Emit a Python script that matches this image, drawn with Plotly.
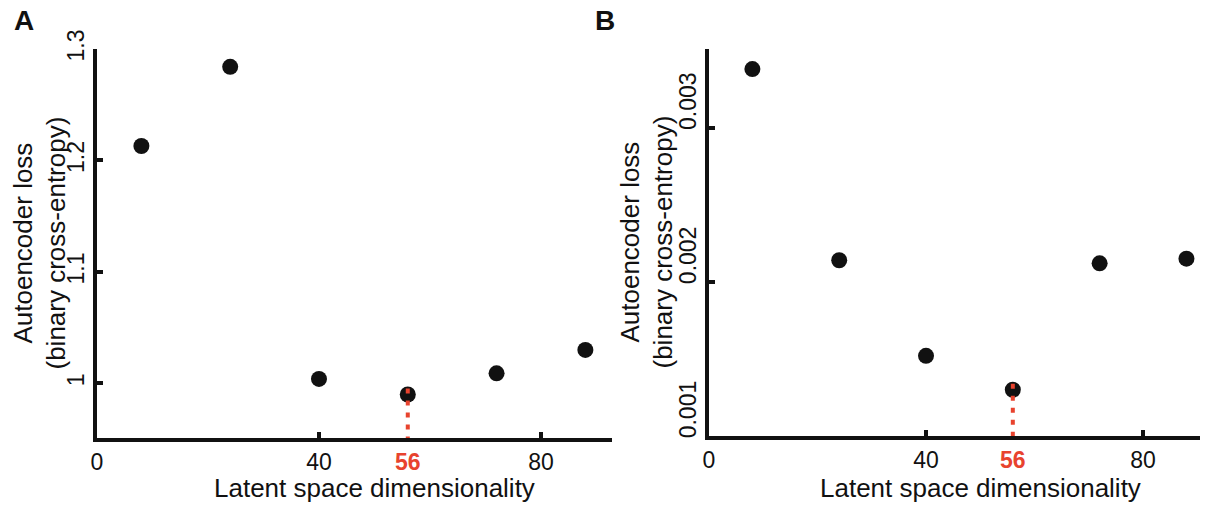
import plotly.graph_objects as go

# ---- data ----
dims = [8, 24, 40, 56, 72, 88]
loss_a = [1.213, 1.284, 1.004, 0.990, 1.009, 1.030]
loss_b = [0.00338, 0.00214, 0.00152, 0.00130, 0.00212, 0.00215]
chosen_dim = 56
x_ticks = [0, 40, 80]
x_tick_text = ["0", "40", "80"]
ya_ticks = [1.0, 1.1, 1.2, 1.3]
ya_tick_text = ["1", "1.1", "1.2", "1.3"]
yb_ticks = [0.001, 0.002, 0.003]
yb_tick_text = ["0.001", "0.002", "0.003"]
x_title = "Latent space dimensionality"
y_title = "Autoencoder loss<br>(binary cross-entropy)"
panel_labels = ["A", "B"]

# ---- styling ----
W, H = 1209, 505
FONT = "Liberation Sans, Arial, Helvetica, sans-serif"
RED = "#E8432E"
BLACK = "#111111"
ya_range = [0.951, 1.3]
yb_range = [0.001, 0.00351]
xa_range = [0, 92.8]
xb_range = [0, 90.5]

def px(v, total):
    return v / total

fig = go.Figure()

panels = [
    dict(x="x", y="y", data=loss_a, yr=ya_range, dom_y=(49, 438)),
    dict(x="x2", y="y2", data=loss_b, yr=yb_range, dom_y=(49, 436)),
]

for p in panels:
    fig.add_trace(go.Scatter(x=dims, y=p["data"], mode="markers", xaxis=p["x"], yaxis=p["y"],
                             marker=dict(size=16, color=BLACK), showlegend=False, hoverinfo="skip"))
    # dotted red drop line from chosen point to x axis
    yv = p["data"][dims.index(chosen_dim)]
    span = p["yr"][1] - p["yr"][0]
    plot_h = p["dom_y"][1] - p["dom_y"][0]
    off = 6 * span / plot_h
    fig.add_trace(go.Scatter(x=[chosen_dim, chosen_dim], y=[yv + off, p["yr"][0]], mode="lines",
                             xaxis=p["x"], yaxis=p["y"],
                             line=dict(color=RED, width=4, dash="5px,7px"),
                             showlegend=False, hoverinfo="skip"))

axis_common = dict(showgrid=False, zeroline=False, showline=True, linecolor=BLACK, linewidth=4,
                   ticks="inside", ticklen=6, tickwidth=4, tickcolor=BLACK,
                   tickfont=dict(family=FONT, size=23, color=BLACK), automargin=False)

layout = dict(width=W, height=H, margin=dict(l=0, r=0, t=0, b=0),
              paper_bgcolor="white", plot_bgcolor="white", font=dict(family=FONT, color=BLACK))

# Panel A axes
layout["xaxis"] = dict(axis_common, domain=[px(97, W), px(612, W)], range=xa_range, anchor="y",
                       tickvals=x_ticks, ticktext=x_tick_text)
layout["yaxis"] = dict(axis_common, domain=[1 - px(438, H), 1 - px(49, H)], range=ya_range, anchor="x",
                       tickvals=ya_ticks, ticktext=ya_tick_text, tickangle=-90)
# Panel B axes
layout["xaxis2"] = dict(axis_common, domain=[px(709, W), px(1200, W)], range=xb_range, anchor="y2",
                        tickvals=x_ticks, ticktext=x_tick_text)
layout["yaxis2"] = dict(axis_common, domain=[1 - px(436, H), 1 - px(49, H)], range=yb_range, anchor="x2",
                        tickvals=yb_ticks, ticktext=yb_tick_text, tickangle=-90, ticklabelshift=-23)
# overlay axes carrying the red highlighted dimension label
for name, base, anchor, rng in [("xaxis3", "x", "y", xa_range), ("xaxis4", "x2", "y2", xb_range)]:
    layout[name] = dict(overlaying=base, anchor=anchor, range=rng, showgrid=False, zeroline=False,
                        showline=True, linecolor="rgba(0,0,0,0)", linewidth=4,
                        ticks="", side="bottom", automargin=False,
                        tickvals=[chosen_dim], ticktext=["<b>%d</b>" % chosen_dim],
                        tickfont=dict(family=FONT, size=23, color=RED))

annotations = []
for xref, yref, tx in [("x", "y", 39), ("x2", "y2", 646)]:
    annotations.append(dict(text=x_title, x=50, xref=xref, y=1 - 488 / H, yref="paper",
                            showarrow=False, xanchor="center", yanchor="middle",
                            font=dict(family=FONT, size=26, color=BLACK)))
    annotations.append(dict(text=y_title, x=tx / W, xref="paper", y=0.5, yref=yref + " domain",
                            textangle=-90, showarrow=False, xanchor="center", yanchor="middle",
                            font=dict(family=FONT, size=26, color=BLACK)))
for lab, lx in zip(panel_labels, [24, 605]):
    annotations.append(dict(text="<b>%s</b>" % lab, x=lx / W, xref="paper", y=1 - 20 / H, yref="paper",
                            showarrow=False, xanchor="center", yanchor="middle",
                            font=dict(family=FONT, size=28, color=BLACK)))
layout["annotations"] = annotations

fig.update_layout(**layout)
fig.add_trace(go.Scatter(x=[None], y=[None], xaxis="x3", yaxis="y", showlegend=False, hoverinfo="skip"))
fig.add_trace(go.Scatter(x=[None], y=[None], xaxis="x4", yaxis="y2", showlegend=False, hoverinfo="skip"))

fig.write_html("out.html", config={"displayModeBar": False},
               post_script="document.body.style.margin='0';document.body.style.overflow='hidden';")
